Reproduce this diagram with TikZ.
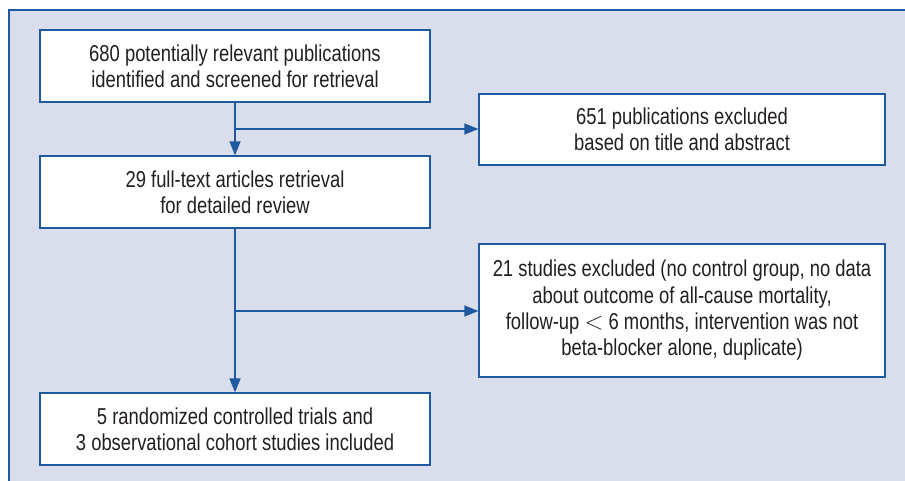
\documentclass[tikz,border=0pt]{standalone}
\usepackage{fontspec}
\setmainfont[FakeStretch=0.8]{Liberation Sans}
\usetikzlibrary{arrows.meta}
\definecolor{panelbg}{HTML}{DADEEC}
\definecolor{frameblue}{HTML}{1F5AA0}
\definecolor{txt}{HTML}{231F20}
\begin{document}
\begin{tikzpicture}[x=1pt,y=-1pt,
  box/.style={draw=frameblue,line width=1.2pt,fill=white,align=center,text=txt,
    font=\fontsize{23}{26.3}\selectfont,inner sep=0pt},
  leftbox/.style={box,minimum width=390pt,minimum height=72pt},
  rightbox/.style={box,minimum width=406pt},
  conn/.style={draw=frameblue,line width=1.4pt},
  arr/.style={conn,-{Triangle[length=14pt,width=11pt]}}]
\useasboundingbox (0,0) rectangle (905,481);
\fill[panelbg] (9,10) rectangle (905,481);
\draw[frameblue,line width=1.2pt] (9,481) -- (9,10) -- (905,10);
\node[leftbox] (b1) at (235,66) {680 potentially relevant publications\\identified and screened for retrieval};
\node[rightbox,minimum height=71pt] (b2) at (682,129.5) {651 publications excluded\\based on title and abstract};
\node[leftbox] (b3) at (235,192) {29 full-text articles retrieval\\for detailed review};
\node[rightbox,minimum height=133pt] (b4) at (682,310.5) {21 studies excluded (no control group, no data\\about outcome of all-cause mortality,\\follow-up $<$ 6 months, intervention was not\\beta-blocker alone, duplicate)};
\node[leftbox] (b5) at (235,429) {5 randomized controlled trials and\\3 observational cohort studies included};
\coordinate (j1) at (235,129);
\coordinate (j2) at (235,311);
\draw[arr] (b1) -- (b3);
\draw[arr] (j1) -- (j1 -| b2.west);
\draw[arr] (b3) -- (b5);
\draw[arr] (j2) -- (j2 -| b4.west);
\end{tikzpicture}
\end{document}
